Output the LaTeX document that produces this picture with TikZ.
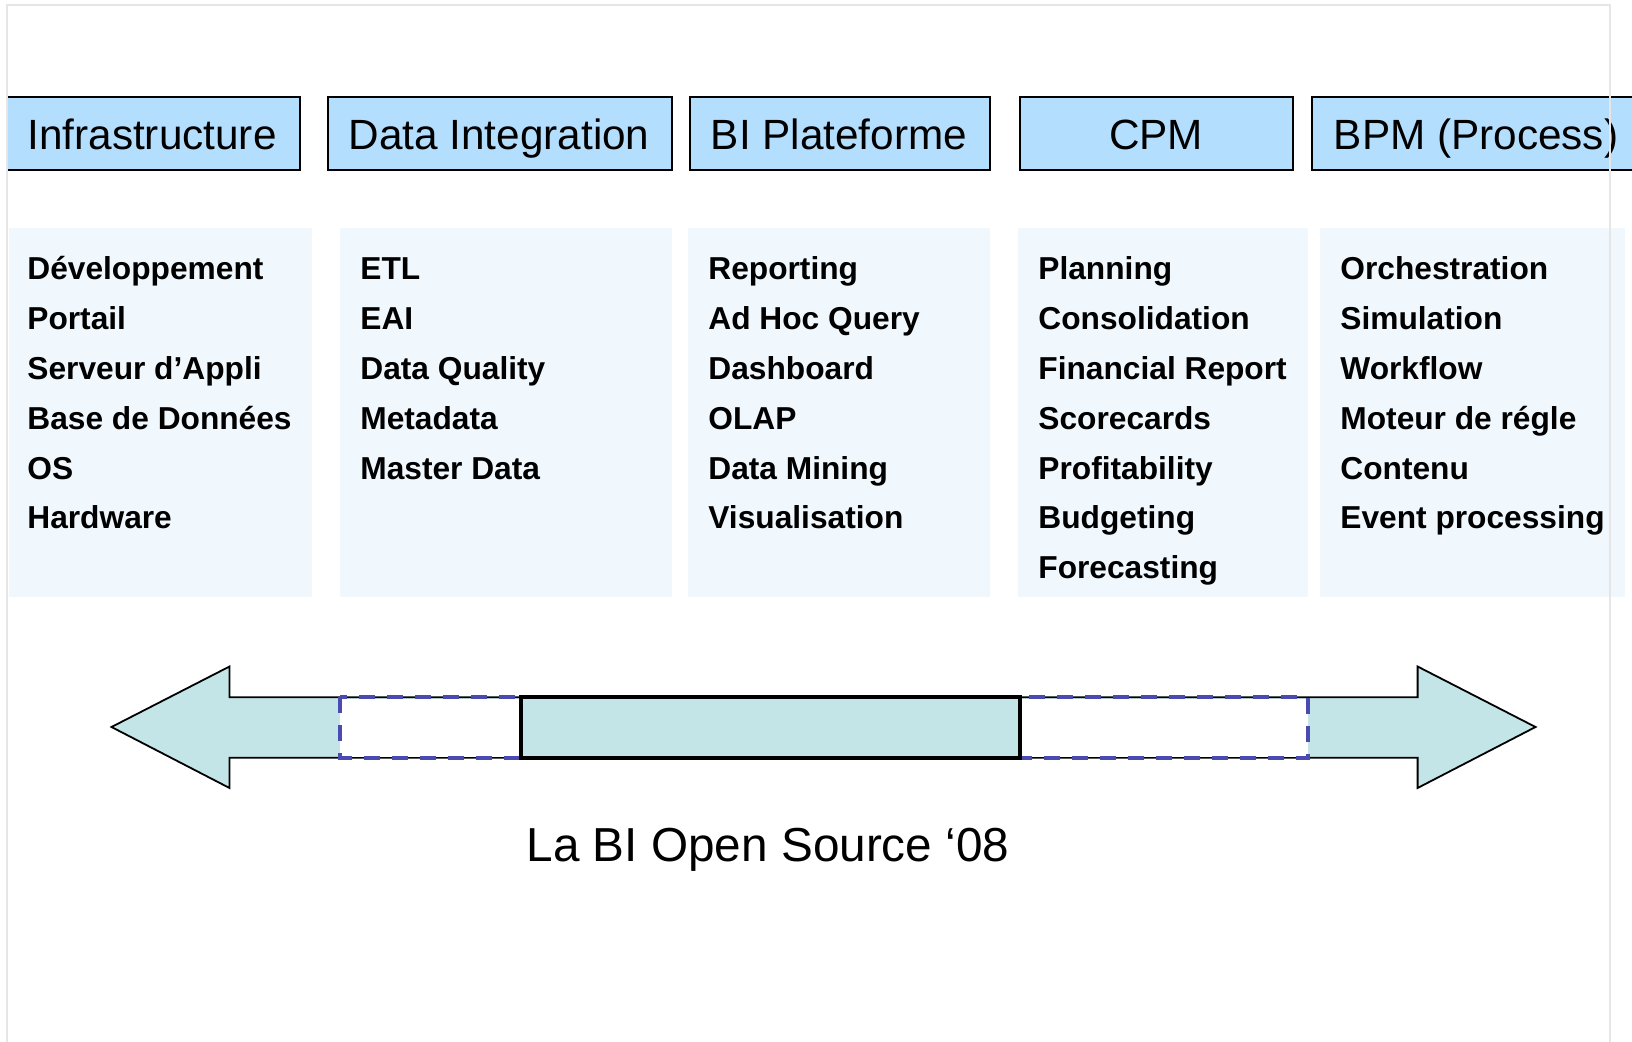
\documentclass[tikz,border=0pt]{standalone}
\usepackage{fontspec}
\setmainfont{Liberation Sans}
\definecolor{hdrblue}{RGB}{179,222,253}
\definecolor{colblue}{RGB}{240,248,254}
\definecolor{arrteal}{RGB}{195,229,232}
\definecolor{dashblue}{RGB}{74,74,176}
\definecolor{framegray}{RGB}{230,230,230}
\begin{document}
\begin{tikzpicture}[x=0.5pt,y=-0.5pt,
  hdrbox/.style={draw=black,line width=1.2pt,fill=hdrblue},
  colbox/.style={fill=colblue},
  hdrtext/.style={anchor=base,inner sep=0pt,font=\fontsize{21.15}{25}\selectfont},
  item/.style={anchor=base west,inner sep=0pt,font=\bfseries\fontsize{15.85}{19}\selectfont},
  arrowbody/.style={fill=arrteal,draw=black,line width=0.9pt,line join=miter},
  dashbox/.style={draw=dashblue,line width=2pt,dash pattern=on 8pt off 6pt},
  solidbox/.style={fill=arrteal,draw=black,line width=2pt},
  caption/.style={anchor=base,inner sep=0pt,font=\fontsize{23.85}{28}\selectfont}]
\useasboundingbox (0,0) rectangle (1632,1042);
\fill[white] (0,0) rectangle (1632,1042);

% header boxes
\draw[hdrbox] (7,97) rectangle (300,170);
\draw[hdrbox] (328,97) rectangle (672,170);
\draw[hdrbox] (690,97) rectangle (990,170);
\draw[hdrbox] (1020,97) rectangle (1293,170);
\draw[hdrbox] (1312,97) rectangle (1645,170);
\node[hdrtext] (h1) at (152,150) {Infrastructure};
\node[hdrtext] (h2) at (499,150) {Data Integration};
\node[hdrtext] (h3) at (839,150) {BI Plateforme};
\node[hdrtext] (h4) at (1156,150) {CPM};
\node[hdrtext] (h5) at (1476,150) {BPM (Process)};

% column boxes
\fill[colbox] (9,228) rectangle (312,597);
\fill[colbox] (340,228) rectangle (672,597);
\fill[colbox] (688,228) rectangle (990,597);
\fill[colbox] (1018,228) rectangle (1308,597);
\fill[colbox] (1320,228) rectangle (1625,597);

\foreach \t [count=\i from 0] in {Développement,Portail,Serveur d’Appli,Base de Données,OS,Hardware}
  \node[item] (a\i) at (27,{280+49.8*\i}) {\t};
\foreach \t [count=\i from 0] in {ETL,EAI,Data Quality,Metadata,Master Data}
  \node[item] (b\i) at (360,{280+49.8*\i}) {\t};
\foreach \t [count=\i from 0] in {Reporting,Ad Hoc Query,Dashboard,OLAP,Data Mining,Visualisation}
  \node[item] (c\i) at (708,{280+49.8*\i}) {\t};
\foreach \t [count=\i from 0] in {Planning,Consolidation,Financial Report,Scorecards,Profitability,Budgeting,Forecasting}
  \node[item] (d\i) at (1038,{280+49.8*\i}) {\t};
\foreach \t [count=\i from 0] in {Orchestration,Simulation,Workflow,Moteur de régle,Contenu,Event processing}
  \node[item] (e\i) at (1340,{280+49.8*\i}) {\t};

% double arrow
\draw[arrowbody] (1417.6,697.3) -- (229.5,697.3) -- (229.5,666.5) -- (111.5,727) -- (229.5,788) -- (229.5,757.7)
  -- (1417.6,757.7) -- (1417.6,788) -- (1535.5,727) -- (1417.6,666.5) -- cycle;
\fill[white] (340,698.5) rectangle (521,756.5);
\fill[white] (1020,698.5) rectangle (1308,756.5);
\draw[dashbox] (340,697.3) rectangle (521,757.7);
\draw[dashbox] (1020,697.3) rectangle (1308,757.7);
\draw[solidbox] (521,697.3) rectangle (1020,757.7);

\node[caption] (cap) at (768,861) {La BI Open Source ‘08};

% frame
\draw[framegray,line width=1pt] (7,1042) -- (7,5) -- (1610,5) -- (1610,1042);
\end{tikzpicture}
\end{document}
